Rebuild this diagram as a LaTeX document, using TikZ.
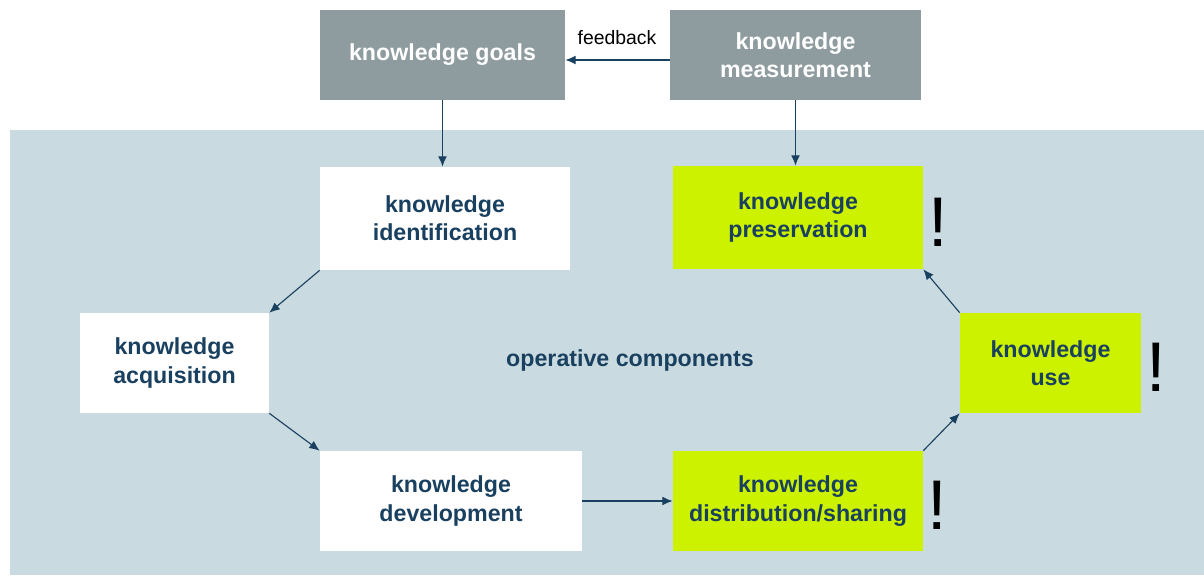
\documentclass[tikz,border=0pt]{standalone}
\usepackage{xcolor}
\usepackage{fontspec}
\setmainfont{Liberation Sans}
\usepackage{tikz}
\usetikzlibrary{arrows.meta}
\usetikzlibrary{positioning}

\definecolor{kmgrey}{HTML}{8E9B9F}
\definecolor{kmlime}{HTML}{CCF200}
\definecolor{kmback}{HTML}{C9DBE0}
\definecolor{kmnavy}{HTML}{1A4060}

\begin{document}
\begin{tikzpicture}[x=0.025cm,y=-0.025cm,
    box/.style={rectangle,inner sep=0pt,align=center,
        font=\fontsize{16.5}{20}\selectfont\bfseries},
    topbox/.style={box,fill=kmgrey,text=white,minimum height=2.25cm},
    opbox/.style={box,fill=white,text=kmnavy},
    hotbox/.style={box,fill=kmlime,text=kmnavy},
    bang/.style={font=\fontsize{50}{50}\selectfont},
    flow/.style={draw=kmnavy,line width=0.8pt,-{Latex[length=2.6mm,width=2.2mm]}}]
    \useasboundingbox (0,0) rectangle (1204,575);
    \fill[kmback] (10,130) rectangle (1204,575);

    \node[topbox,minimum width=6.125cm] (goals) at (442.5,55) {knowledge goals};
    \node[topbox,minimum width=6.275cm] (meas) at (795.5,55) {knowledge\\measurement};
    \node[font=\fontsize{13.8}{16}\selectfont] (fb) at (617,38) {feedback};

    \begin{scope}[every node/.style={minimum height=2.5cm}]
    \node[opbox,minimum width=6.25cm,minimum height=2.575cm] (ident) at (445,218.5) {knowledge\\identification};
    \node[hotbox,minimum width=6.25cm,minimum height=2.575cm] (pres) at (798,217.5) {knowledge\\preservation};
    \node[opbox,minimum width=4.725cm] (acq) at (174.5,363) {knowledge\\acquisition};
    \node[hotbox,minimum width=4.525cm] (use) at (1050.5,363) {knowledge\\use};
    \node[opbox,minimum width=6.55cm] (dev) at (451,501) {knowledge\\development};
    \node[hotbox,minimum width=6.25cm] (dist) at (798,501) {knowledge\\distribution/sharing};
    \end{scope}

    \node[box,text=kmnavy] (ops) at (630,360) {operative components};

    \node[bang] (bang1) at (938,222) {!};
    \node[bang] (bang2) at (1156,367) {!};
    \node[bang] (bang3) at (937,505) {!};

    \begin{scope}[every path/.style={flow}]
    \path ([yshift=-0.125cm]meas.west) -- ([yshift=-0.125cm]goals.east);
    \path (goals.south) -- (goals.south |- ident.north);
    \path (meas.south) -- (meas.south |- pres.north);
    \path (ident.south west) -- (acq.north east);
    \path (acq.south east) -- (dev.north west);
    \path (dev.east) -- (dist.west);
    \path (dist.north east) -- (use.south west);
    \path (use.north west) -- (pres.south east);
    \end{scope}
\end{tikzpicture}
\end{document}
